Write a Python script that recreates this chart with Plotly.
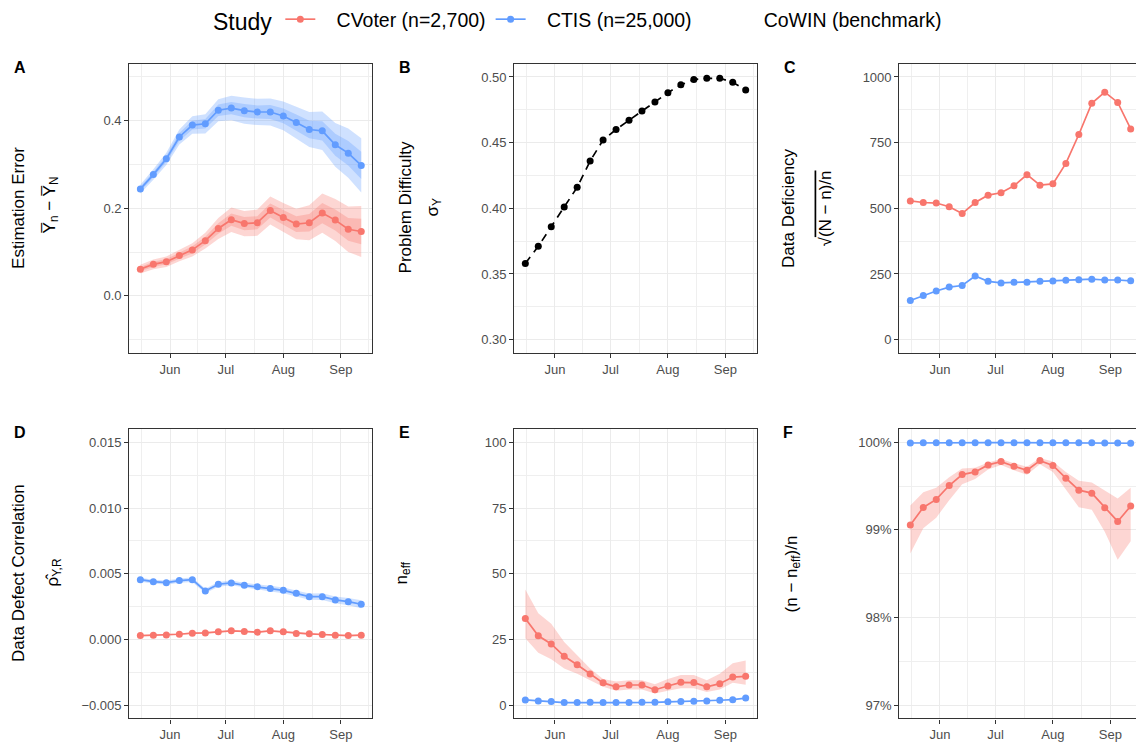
import plotly.graph_objects as go

# ---------------- data ----------------
dates = ["2021-05-16", "2021-05-23", "2021-05-30", "2021-06-06", "2021-06-13", "2021-06-20",
         "2021-06-27", "2021-07-04", "2021-07-11", "2021-07-18", "2021-07-25", "2021-08-01",
         "2021-08-08", "2021-08-15", "2021-08-22", "2021-08-29", "2021-09-05", "2021-09-12"]

month_ticks = ["2021-06-01", "2021-07-01", "2021-08-01", "2021-09-01"]
month_labels = ["Jun", "Jul", "Aug", "Sep"]
month_minor = ["2021-05-16 12:00", "2021-06-16", "2021-07-16 12:00", "2021-08-16 12:00", "2021-09-16"]

# A: estimation error
cvoter_err = [0.061, 0.072, 0.078, 0.092, 0.105, 0.126, 0.154, 0.174, 0.165, 0.167, 0.195, 0.179,
              0.164, 0.167, 0.189, 0.173, 0.152, 0.147]
cvoter_err_hw95 = [0.010, 0.011, 0.012, 0.013, 0.015, 0.018, 0.024, 0.028, 0.029, 0.030, 0.032, 0.033,
                   0.035, 0.040, 0.045, 0.048, 0.052, 0.058]
cvoter_err_hw50 = [0.005, 0.006, 0.006, 0.007, 0.008, 0.009, 0.012, 0.014, 0.015, 0.015, 0.016, 0.017,
                   0.018, 0.020, 0.023, 0.024, 0.026, 0.029]
ctis_err = [0.244, 0.277, 0.313, 0.363, 0.390, 0.393, 0.424, 0.429, 0.423, 0.420, 0.420, 0.411,
            0.396, 0.380, 0.377, 0.345, 0.326, 0.298]
ctis_err_hw95 = [0.010, 0.012, 0.014, 0.017, 0.020, 0.022, 0.025, 0.028, 0.030, 0.030, 0.031, 0.033,
                 0.036, 0.040, 0.044, 0.050, 0.056, 0.062]
ctis_err_hw50 = [0.005, 0.006, 0.007, 0.009, 0.010, 0.011, 0.013, 0.014, 0.015, 0.015, 0.016, 0.017,
                 0.018, 0.020, 0.022, 0.025, 0.028, 0.031]

# B: problem difficulty (CoWIN benchmark)
sigma_y = [0.358, 0.371, 0.386, 0.401, 0.416, 0.436, 0.452, 0.460, 0.467, 0.474, 0.481, 0.488,
           0.494, 0.498, 0.499, 0.499, 0.496, 0.490]

# C: data deficiency
cvoter_dd = [528, 522, 520, 506, 480, 522, 550, 559, 586, 628, 588, 593, 671, 781, 900, 942, 903, 802]
ctis_dd = [149, 168, 185, 200, 206, 242, 222, 216, 218, 218, 222, 223, 226, 228, 230, 227, 227, 224]

# D: data defect correlation
cvoter_rho = [0.00030, 0.00033, 0.00035, 0.00040, 0.00048, 0.00050, 0.00058, 0.00066, 0.00061,
              0.00056, 0.00066, 0.00058, 0.00046, 0.00043, 0.00038, 0.00033, 0.00030, 0.00033]
cvoter_rho_hw = [0.00005] * 18
ctis_rho = [0.00455, 0.00440, 0.00432, 0.00448, 0.00455, 0.00369, 0.00420, 0.00430, 0.00412,
            0.00402, 0.00387, 0.00374, 0.00351, 0.00326, 0.00326, 0.00301, 0.00288, 0.00268]
ctis_rho_hw = [0.00015, 0.00015, 0.00016, 0.00016, 0.00017, 0.00017, 0.00018, 0.00018, 0.00019,
               0.00020, 0.00021, 0.00022, 0.00023, 0.00024, 0.00025, 0.00026, 0.00028, 0.00030]

# E: effective sample size
cvoter_neff = [33.0, 26.4, 23.3, 18.6, 15.4, 11.9, 8.5, 7.0, 7.7, 7.7, 5.9, 7.3, 8.7, 8.6, 7.0, 8.2, 10.7, 11.0]
cvoter_neff_hi = [44.0, 35.0, 31.0, 24.0, 19.0, 14.0, 10.0, 9.0, 9.5, 9.5, 8.0, 10.0, 11.5, 11.5, 9.5, 12.0, 16.0, 17.0]
cvoter_neff_lo = [25.5, 20.0, 17.5, 14.0, 12.0, 9.5, 7.0, 5.5, 6.0, 6.0, 4.5, 5.5, 6.5, 6.5, 5.0, 6.0, 8.5, 7.8]
ctis_neff = [2.0, 1.6, 1.4, 1.0, 1.0, 1.1, 1.0, 1.0, 1.0, 1.1, 1.1, 1.3, 1.4, 1.5, 1.6, 1.9, 2.1, 2.7]

# F: relative loss (n - neff)/n
cvoter_loss = [0.99056, 0.99257, 0.99348, 0.99507, 0.99632, 0.99662, 0.99742, 0.99780, 0.99727,
               0.99681, 0.99791, 0.99735, 0.99590, 0.99454, 0.99420, 0.99253, 0.99097, 0.99272]
cvoter_loss_hi = [0.9928, 0.9943, 0.9948, 0.9960, 0.9970, 0.9971, 0.9977, 0.9981, 0.9976,
                  0.9972, 0.9982, 0.9978, 0.9966, 0.9956, 0.9954, 0.9945, 0.9936, 0.9948]
cvoter_loss_lo = [0.9873, 0.9902, 0.9914, 0.9934, 0.9952, 0.9958, 0.9969, 0.9974, 0.9968,
                  0.9963, 0.9975, 0.9966, 0.9946, 0.9926, 0.9923, 0.9898, 0.9866, 0.9887]
ctis_loss = [0.99992, 0.99994, 0.99994, 0.99996, 0.99996, 0.99996, 0.99996, 0.99996, 0.99996,
             0.99996, 0.99996, 0.99995, 0.99994, 0.99994, 0.99994, 0.99992, 0.99992, 0.99989]

# tick values / labels
a_ticks = [0.0, 0.2, 0.4]; a_labels = ["0.0", "0.2", "0.4"]; a_minor = [-0.1, 0.1, 0.3, 0.5]
b_ticks = [0.30, 0.35, 0.40, 0.45, 0.50]; b_labels = ["0.30", "0.35", "0.40", "0.45", "0.50"]
b_minor = [0.325, 0.375, 0.425, 0.475]
c_ticks = [0, 250, 500, 750, 1000]; c_labels = ["0", "250", "500", "750", "1000"]
c_minor = [125, 375, 625, 875]
d_ticks = [-0.005, 0.0, 0.005, 0.010, 0.015]
d_labels = ["\u22120.005", "0.000", "0.005", "0.010", "0.015"]
d_minor = [-0.0025, 0.0025, 0.0075, 0.0125]
e_ticks = [0, 25, 50, 75, 100]; e_labels = ["0", "25", "50", "75", "100"]
e_minor = [12.5, 37.5, 62.5, 87.5]
f_ticks = [0.97, 0.98, 0.99, 1.00]; f_labels = ["97%", "98%", "99%", "100%"]
f_minor = [0.975, 0.985, 0.995]

study_names = ["CVoter (n=2,700)", "CTIS (n=25,000)", "CoWIN (benchmark)"]

# ---------------- style ----------------
RED = "#F8766D"
BLUE = "#619CFF"
RED_FILL = "rgba(248,118,109,0.30)"
BLUE_FILL = "rgba(97,156,255,0.30)"
FONT = "Liberation Sans, Arial, sans-serif"
W, H = 1136, 742

fig = go.Figure()


def band(xa, ya, lo, hi, color):
    fig.add_trace(go.Scatter(x=dates + dates[::-1], y=list(hi) + list(lo)[::-1], fill="toself",
                             fillcolor=color, mode="lines", line=dict(width=0),
                             hoverinfo="skip", showlegend=False, xaxis=xa, yaxis=ya))


def series(xa, ya, y, color, name=None, legend=False, dash="solid"):
    fig.add_trace(go.Scatter(x=dates, y=y, mode="lines+markers", name=name,
                             line=dict(color=color, width=1.7, dash=dash),
                             marker=dict(color=color, size=7), showlegend=legend,
                             legendgroup=name, xaxis=xa, yaxis=ya))


def pm(v, hw, s):
    return [a + s * b for a, b in zip(v, hw)]


NB = "\u00a0"
# A
band("x", "y", pm(cvoter_err, cvoter_err_hw95, -1), pm(cvoter_err, cvoter_err_hw95, 1), RED_FILL)
band("x", "y", pm(cvoter_err, cvoter_err_hw50, -1), pm(cvoter_err, cvoter_err_hw50, 1), RED_FILL)
band("x", "y", pm(ctis_err, ctis_err_hw95, -1), pm(ctis_err, ctis_err_hw95, 1), BLUE_FILL)
band("x", "y", pm(ctis_err, ctis_err_hw50, -1), pm(ctis_err, ctis_err_hw50, 1), BLUE_FILL)
series("x", "y", cvoter_err, RED, NB * 3 + study_names[0], legend=True)
series("x", "y", ctis_err, BLUE, NB * 3 + study_names[1] + NB, legend=True)
fig.add_trace(go.Scatter(x=[None], y=[None], mode="lines", name=NB * 4 + study_names[2],
                         line=dict(color="rgba(0,0,0,0)"), showlegend=True, xaxis="x", yaxis="y"))

# B
fig.add_trace(go.Scatter(x=dates, y=sigma_y, mode="lines+markers",
                         line=dict(color="black", width=1.7, dash="8px,6px"),
                         marker=dict(color="black", size=7), showlegend=False,
                         xaxis="x2", yaxis="y2"))
# C
series("x3", "y3", cvoter_dd, RED)
series("x3", "y3", ctis_dd, BLUE)
# D
band("x4", "y4", pm(cvoter_rho, cvoter_rho_hw, -1), pm(cvoter_rho, cvoter_rho_hw, 1), RED_FILL)
band("x4", "y4", pm(ctis_rho, ctis_rho_hw, -1), pm(ctis_rho, ctis_rho_hw, 1), BLUE_FILL)
series("x4", "y4", cvoter_rho, RED)
series("x4", "y4", ctis_rho, BLUE)
# E
band("x5", "y5", cvoter_neff_lo, cvoter_neff_hi, RED_FILL)
series("x5", "y5", cvoter_neff, RED)
series("x5", "y5", ctis_neff, BLUE)
# F
band("x6", "y6", cvoter_loss_lo, cvoter_loss_hi, RED_FILL)
series("x6", "y6", cvoter_loss, RED)
series("x6", "y6", ctis_loss, BLUE)

# ---------------- axes ----------------
px = lambda v: v / W
py = lambda v: 1 - v / H

col_dom = [[px(129.3), px(372.3)], [px(514.3), px(756.7)], [px(899.3), 1.0]]
row_dom = [[py(351.7), py(62)], [py(718.3), py(428.3)]]
xr_full = ["2021-05-10 01:12", "2021-09-17 22:48"]
xr_cut = ["2021-05-10 01:12", "2021-09-14 21:00"]

common = dict(showline=True, linecolor="#333333", linewidth=1.3, ticks="outside", ticklen=4,
              tickwidth=1, tickcolor="#333333", showgrid=True, gridcolor="#EBEBEB", gridwidth=1.3,
              zeroline=False, tickfont=dict(family=FONT, size=13, color="#4D4D4D"))

yspecs = [(a_ticks, a_labels, a_minor, [-0.13, 0.53]),
          (b_ticks, b_labels, b_minor, [0.29, 0.51]),
          (c_ticks, c_labels, c_minor, [-50, 1050]),
          (d_ticks, d_labels, d_minor, [-0.006, 0.016]),
          (e_ticks, e_labels, e_minor, [-5, 105]),
          (f_ticks, f_labels, f_minor, [0.9685, 1.0015])]

layout = {}
for i in range(6):
    r, c = divmod(i, 3)
    sx = "" if i == 0 else str(i + 1)
    layout["xaxis" + sx] = dict(common, type="date", domain=col_dom[c], anchor="y" + sx,
                                range=xr_cut if c == 2 else xr_full, tickmode="array",
                                tickvals=month_ticks, ticktext=month_labels, mirror=True,
                                minor=dict(tickmode="array", tickvals=month_minor, showgrid=True,
                                           gridcolor="#EFEFEF", gridwidth=0.7, ticks=""))
    tv, tl, mn, rg = yspecs[i]
    layout["yaxis" + sx] = dict(common, domain=row_dom[r], anchor="x" + sx, range=rg,
                                tickmode="array", tickvals=tv, ticktext=tl, mirror=(c != 2),
                                minor=dict(tickmode="array", tickvals=mn, showgrid=True,
                                           gridcolor="#EFEFEF", gridwidth=0.7, ticks=""))

fig.update_layout(**layout)

# ---------------- annotations ----------------
ann = []


def label(x, y, text, size=17, angle=-90):
    ann.append(dict(x=px(x), y=py(y), xref="paper", yref="paper", text=text, showarrow=False,
                    textangle=angle, xanchor="center", yanchor="middle",
                    font=dict(family=FONT, size=size, color="black")))


for tag, (x, y) in zip("ABCDEF", [(20, 66), (405, 66), (790, 66), (19.5, 432), (404, 432), (788, 432)]):
    label(x, y, "<b>" + tag + "</b>", size=16, angle=0)

label(18.5, 207, "Estimation Error")
label(51, 204, "Y\u0305<sub>n</sub> \u2212 Y\u0305<sub>N</sub>")
label(405, 206, "Problem Difficulty")
label(434, 206, "\u03c3<sub>Y</sub>")
label(788.5, 207, "Data Deficiency")
label(825, 207, "\u221a<span style='text-decoration:overline'>(N \u2212 n)/n</span>")
label(18.5, 573, "Data Defect Correlation")
label(54, 572, "\u03c1\u0302<sub>Y,R</sub>")
label(403, 573, "n<sub>eff</sub>")
label(793, 574, "(n \u2212 n<sub>eff</sub>)/n")

fig.update_layout(
    annotations=ann,
    width=W, height=H, margin=dict(l=0, r=0, t=0, b=0),
    paper_bgcolor="white", plot_bgcolor="white",
    font=dict(family=FONT, color="black"),
    showlegend=True,
    legend=dict(orientation="h", x=px(211), y=1 + 2 / H, xanchor="left", yanchor="top",
                title=dict(text="Study", font=dict(family=FONT, size=23, color="black"), side="left"),
                font=dict(family=FONT, size=19.5, color="black"), bgcolor="rgba(0,0,0,0)",
                itemclick=False, itemdoubleclick=False, traceorder="normal"),
)

fig.write_html("out.html", config={"displayModeBar": False},
               post_script="document.body.style.margin='0px';document.body.style.overflow='hidden';")
